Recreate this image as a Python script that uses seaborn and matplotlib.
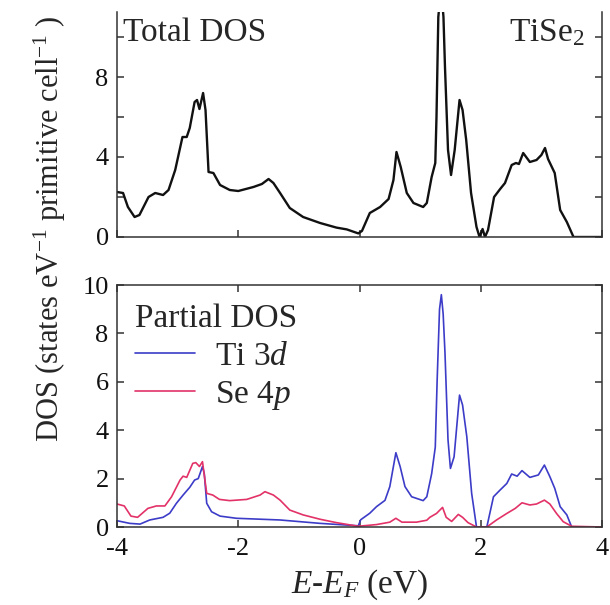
import matplotlib
matplotlib.use("Agg")
import numpy as np
import pandas as pd
import matplotlib.pyplot as plt
import seaborn as sns

# ── DATA ──────────────────────────────────────────────────

E_TOTAL = [-4.0, -3.9, -3.82, -3.71, -3.63, -3.48, -3.37, -3.24, -3.15, -3.04,
           -2.92, -2.85, -2.80, -2.72, -2.68, -2.64, -2.58, -2.54, -2.49, -2.41,
           -2.30, -2.14, -2.0, -1.75, -1.61, -1.50, -1.42, -1.31, -1.15, -0.93,
           -0.65, -0.38, -0.21, -0.02, 0.04, 0.17, 0.34, 0.48, 0.56, 0.61,
           0.68, 0.78, 0.89, 1.05, 1.11, 1.19, 1.25, 1.27, 1.30, 1.345,
           1.385, 1.41, 1.46, 1.51, 1.57, 1.65, 1.70, 1.76, 1.84, 1.93,
           1.98, 2.03, 2.07, 2.12, 2.22, 2.32, 2.40, 2.51, 2.58, 2.63,
           2.70, 2.81, 2.92, 3.0, 3.06, 3.11, 3.22, 3.31, 3.42, 3.53, 4.0]
DOS_TOTAL = [2.25, 2.2, 1.5, 1.0, 1.1, 2.0, 2.2, 2.1, 2.35, 3.35,
             5.0, 5.0, 5.45, 6.75, 6.85, 6.4, 7.2, 6.35, 3.25, 3.2,
             2.6, 2.35, 2.3, 2.5, 2.65, 2.9, 2.7, 2.2, 1.45, 1.0,
             0.7, 0.47, 0.38, 0.18, 0.3, 1.2, 1.5, 1.9, 2.85, 4.25,
             3.5, 2.2, 1.7, 1.5, 1.7, 3.0, 3.7, 6.0, 11.0, 12.5,
             11.0, 8.5, 4.35, 3.1, 4.35, 6.85, 6.35, 4.85, 2.2, 0.5,
             0.0, 0.4, 0.0, 0.35, 2.0, 2.4, 2.7, 3.6, 3.7, 3.65,
             4.2, 3.75, 3.85, 4.1, 4.45, 3.9, 3.2, 1.35, 0.75, 0.0, 0.0]

E_TI = [-4.0, -3.79, -3.62, -3.46, -3.24, -3.13, -3.02, -2.91, -2.80, -2.72,
        -2.66, -2.59, -2.56, -2.52, -2.44, -2.30, -2.03, -1.31, -0.65, -0.02,
        0.02, 0.17, 0.28, 0.42, 0.50, 0.60, 0.67, 0.75, 0.86, 1.05,
        1.11, 1.19, 1.25, 1.28, 1.32, 1.35, 1.38, 1.41, 1.46, 1.50,
        1.56, 1.65, 1.70, 1.77, 1.85, 1.93, 2.10, 2.21, 2.32, 2.43,
        2.51, 2.60, 2.68, 2.81, 2.95, 3.05, 3.14, 3.22, 3.31, 3.42, 3.50]
DOS_TI = [0.26, 0.15, 0.12, 0.29, 0.4, 0.57, 0.98, 1.32, 1.64, 1.94,
          2.0, 2.5, 2.2, 0.98, 0.63, 0.45, 0.36, 0.29, 0.15, 0.05,
          0.3, 0.57, 0.84, 1.1, 1.67, 3.07, 2.5, 1.67, 1.25, 1.09,
          1.25, 2.2, 3.3, 6.0, 9.0, 9.6, 8.8, 7.2, 3.6, 2.42,
          2.9, 5.45, 5.04, 3.73, 1.39, 0.0, 0.0, 1.25, 1.53, 1.8,
          2.19, 2.1, 2.33, 2.05, 2.15, 2.56, 2.08, 1.6, 0.84, 0.5, 0.0]

E_SE = [-4.0, -3.88, -3.77, -3.66, -3.49, -3.35, -3.21, -3.10, -2.96, -2.91,
        -2.85, -2.75, -2.70, -2.64, -2.59, -2.52, -2.42, -2.31, -2.14, -1.86,
        -1.64, -1.56, -1.42, -1.31, -1.15, -0.93, -0.65, -0.38, -0.02, 0.28,
        0.50, 0.60, 0.70, 0.94, 1.11, 1.16, 1.27, 1.37, 1.43, 1.52,
        1.63, 1.70, 1.79, 1.93, 2.10, 2.26, 2.43, 2.57, 2.68, 2.81,
        2.92, 3.05, 3.14, 3.25, 3.36, 3.50, 4.0]
DOS_SE = [0.95, 0.87, 0.45, 0.40, 0.77, 0.87, 0.87, 1.25, 1.94, 2.1,
          2.05, 2.63, 2.66, 2.5, 2.7, 1.39, 1.32, 1.14, 1.09, 1.14,
          1.32, 1.46, 1.32, 1.11, 0.7, 0.5, 0.32, 0.18, 0.03, 0.1,
          0.2, 0.36, 0.2, 0.2, 0.28, 0.4, 0.56, 0.81, 0.4, 0.23,
          0.52, 0.4, 0.18, 0.0, 0.0, 0.29, 0.56, 0.77, 1.0, 0.91,
          0.95, 1.11, 0.95, 0.56, 0.22, 0.03, 0.0]

X_TICKS = [-4, -2, 0, 2, 4]
TOP_Y_TICKS = [0, 2, 4, 6, 8, 10]
TOP_Y_LABELS = ["0", "", "4", "", "8", ""]
BOT_Y_TICKS = [0, 2, 4, 6, 8, 10]

BLUE = "#3c3cc8"
RED = "#e23268"
FRAME = "#333333"

# ── STYLE ─────────────────────────────────────────────────

sns.set_theme(style="ticks")
plt.rcParams["font.family"] = ["Liberation Serif", "DejaVu Serif"]
plt.rcParams["mathtext.fontset"] = "custom"
plt.rcParams["mathtext.rm"] = "Liberation Serif"
plt.rcParams["mathtext.it"] = "Liberation Serif:italic"
plt.rcParams["axes.unicode_minus"] = False
plt.rcParams["axes.edgecolor"] = FRAME
plt.rcParams["axes.linewidth"] = 1.1

FS = 24
TICK_FS = 19

total = pd.DataFrame({"E": E_TOTAL, "dos": DOS_TOTAL})
ti = pd.DataFrame({"E": E_TI, "dos": DOS_TI})
se = pd.DataFrame({"E": E_SE, "dos": DOS_SE})

fig = plt.figure(figsize=(6.10, 6.05), dpi=100)
ax1 = fig.add_axes([117 / 610, 1 - 237 / 605, 485 / 610, 225 / 605])
ax2 = fig.add_axes([117 / 610, 1 - 527 / 605, 485 / 610, 242 / 605])


def _ticks(ax):
    ax.tick_params(direction="in", length=5, width=1.1, color=FRAME,
                   labelsize=TICK_FS, pad=6, labelcolor="#111111")


# ── TOP: total DOS ────────────────────────────────────────
sns.lineplot(data=total, x="E", y="dos", color="#111111", lw=1.7,
             sort=False, estimator=None, ax=ax1)
ax1.set_xlim(-4, 4)
ax1.set_ylim(0, 11.25)
ax1.spines["top"].set_visible(False)
ax1.set_xticks(X_TICKS)
ax1.set_xticklabels([])
ax1.set_yticks(TOP_Y_TICKS)
ax1.set_yticklabels(TOP_Y_LABELS)
ax1.tick_params(right=True)
_ticks(ax1)
ax1.set_xlabel("")
ax1.set_ylabel("")
ax1.text(0.012, 0.975, "Total DOS", transform=ax1.transAxes,
         ha="left", va="top", fontsize=FS)
ax1.text(0.965, 0.975, "TiSe$_2$", transform=ax1.transAxes,
         ha="right", va="top", fontsize=FS)

# ── BOTTOM: partial DOS ───────────────────────────────────
sns.lineplot(data=ti, x="E", y="dos", color=BLUE, lw=1.2,
             sort=False, estimator=None, ax=ax2, label="Ti 3$d$")
sns.lineplot(data=se, x="E", y="dos", color=RED, lw=1.2,
             sort=False, estimator=None, ax=ax2, label="Se 4$p$")
ax2.set_xlim(-4, 4)
ax2.set_ylim(0, 10)
ax2.set_xticks(X_TICKS)
ax2.set_yticks(BOT_Y_TICKS)
ax2.tick_params(top=True, right=True)
_ticks(ax2)
ax2.tick_params(axis="x", pad=8)
ax2.set_ylabel("")
ax2.set_xlabel("$E$-$E_F$ (eV)", fontsize=FS, labelpad=5)

leg = ax2.legend(title="Partial DOS", loc="upper left", frameon=False,
                 fontsize=FS, title_fontsize=FS, handlelength=1.8,
                 handletextpad=0.6, labelspacing=0.22,
                 borderaxespad=0.15, alignment="left")

fig.text(50 / 610, 1 - 229 / 605,
         "DOS (states eV$^{-1}$ primitive cell$^{-1}$ )",
         rotation=90, ha="center", va="center", fontsize=22)

fig.savefig("out.png", dpi=100)
plt.close(fig)
